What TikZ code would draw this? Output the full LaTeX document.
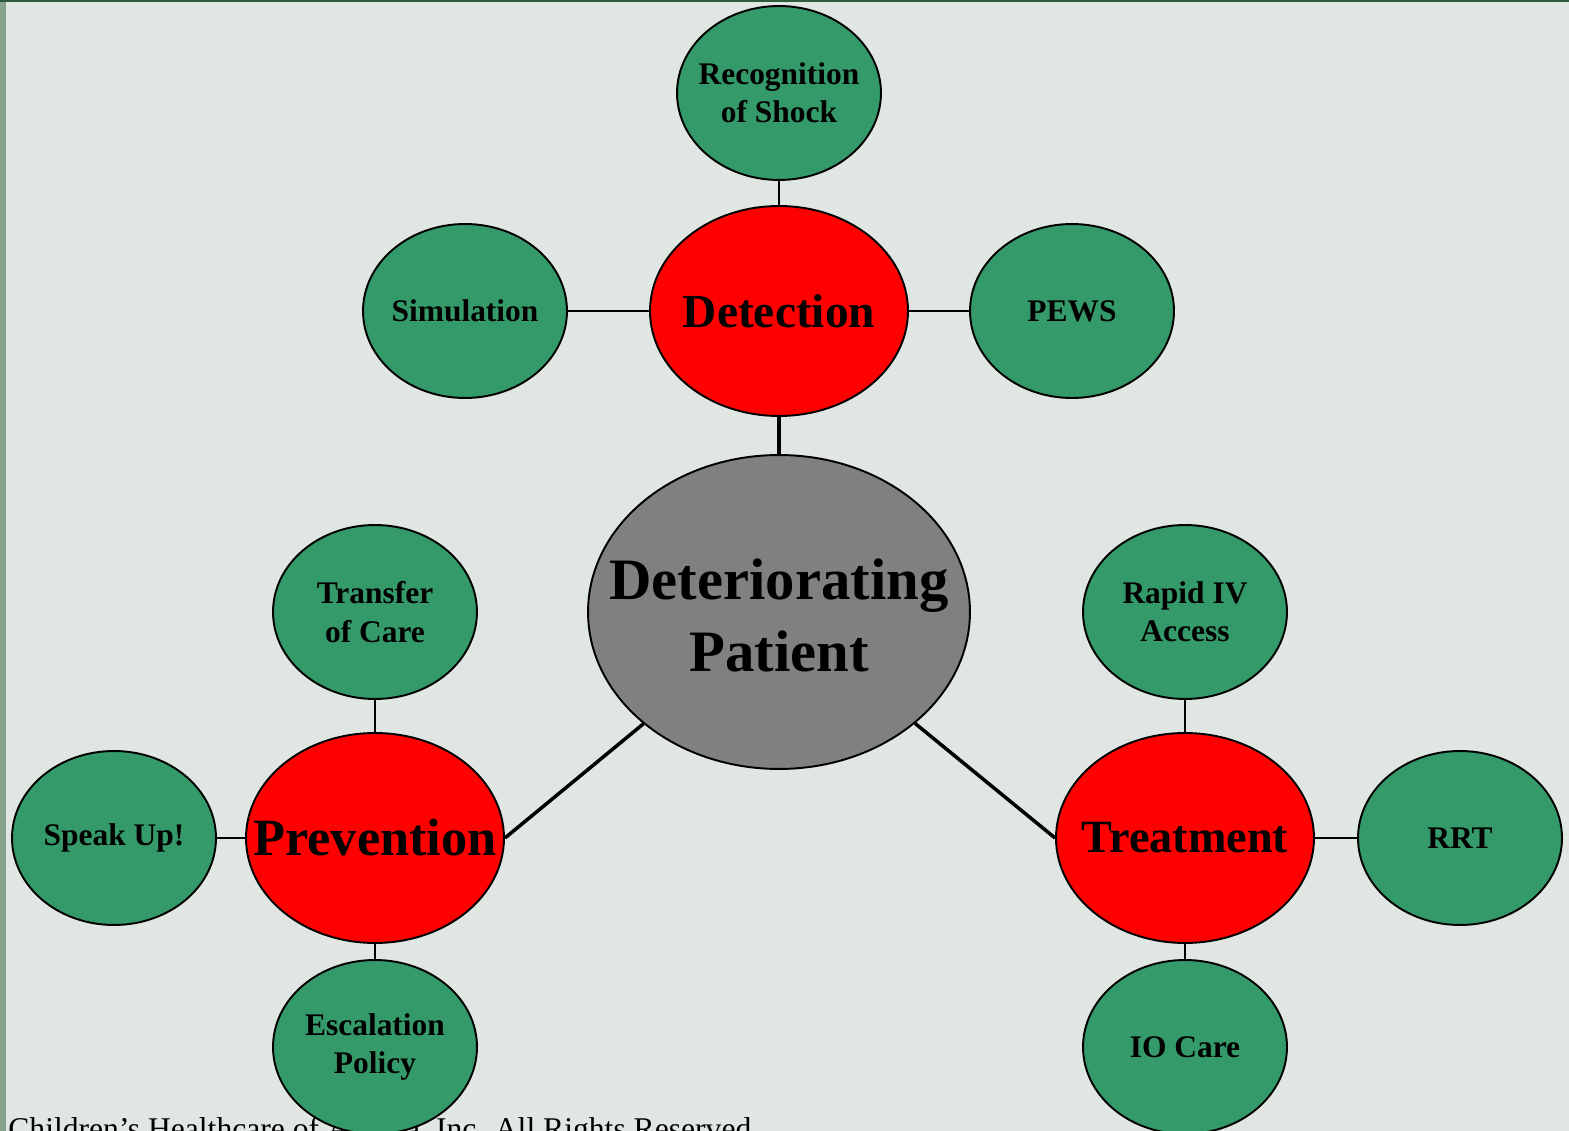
\documentclass[tikz,border=0pt]{standalone}
\usepackage{fontspec}
\setmainfont{Liberation Serif}
\usetikzlibrary{shapes.geometric}
\definecolor{bgc}{HTML}{E0E6E1}
\definecolor{leafc}{HTML}{359A6A}
\definecolor{stripc}{HTML}{86A38E}
\definecolor{topc}{HTML}{2E5B3C}
\tikzset{
 bub/.style={ellipse,draw,line width=1.1pt,inner sep=0pt},
 leaf/.style={bub,fill=leafc,minimum width=4.08cm,minimum height=3.48cm},
 hub/.style={bub,fill=red,minimum width=5.16cm,minimum height=4.2cm},
 txt/.style={align=center,font=\bfseries\fontsize{#1}{1.22\dimexpr#1\relax}\selectfont,inner sep=0pt},
 link/.style={line width=1.2pt},
 mainlink/.style={line width=2pt}}
\begin{document}
\begin{tikzpicture}[x=0.02cm,y=-0.02cm]
\fill[bgc](0,0)rectangle(1569,1131);\fill[stripc](0,0)rectangle(6,1131);\fill[topc](0,0)rectangle(1569,2);
\useasboundingbox(0,0)rectangle(1569,1131);
\node[anchor=base west,inner sep=0pt,font=\fontsize{18pt}{21pt}\selectfont](copy)at(8,1139){Children’s Healthcare of Atlanta, Inc. All Rights Reserved};
% centre
\node[bub,fill=gray,minimum width=7.64cm,minimum height=6.28cm,label={[txt=33.4pt,yshift=-2pt]center:{Deteriorating\\Patient}}](pat)at(779,612){};
% hubs
\node[hub,label={[txt=27pt]center:Detection}](det)at(779,311){};
\node[hub,label={[txt=29.8pt]center:Prevention}](prev)at(375,838){};
\node[hub,label={[txt=26.3pt]center:Treatment}](treat)at(1185,838){};
% leaves
\node[leaf,label={[txt=17.9pt]center:{Recognition\\of Shock}}](shock)at(779,93){};
\node[leaf,label={[txt=17.9pt]center:Simulation}](sim)at(465,311){};
\node[leaf,label={[txt=17.9pt]center:PEWS}](pews)at(1072,311){};
\node[leaf,label={[txt=17.9pt]center:{Transfer\\of Care}}](trans)at(375,612){};
\node[leaf,label={[txt=17.9pt]center:Speak Up!}](speak)at(114,838){};
\node[leaf,label={[txt=17.9pt]center:{Escalation\\Policy}}](esc)at(375,1047){};
\node[leaf,label={[txt=17.9pt]center:{Rapid IV\\Access}}](iv)at(1185,612){};
\node[leaf,label={[txt=17.9pt]center:RRT}](rrt)at(1460,838){};
\node[leaf,label={[txt=17.9pt]center:IO Care}](io)at(1185,1047){};
\draw[mainlink](det)--(pat);\draw[mainlink](prev.east)--(pat);\draw[mainlink](treat.west)--(pat);
\foreach \a/\b in {shock/det,sim/det,pews/det,trans/prev,speak/prev,esc/prev,iv/treat,rrt/treat,io/treat}\draw[link](\a)--(\b);
\end{tikzpicture}
\end{document}
